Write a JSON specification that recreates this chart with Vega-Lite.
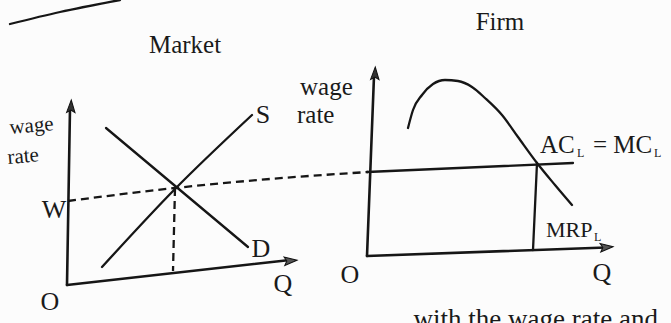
{
  "$schema": "https://vega.github.io/schema/vega-lite/v6.json",
  "width": 671,
  "height": 323,
  "padding": 0,
  "autosize": {"type": "none"},
  "background": "#fcfcfc",
  "config": {"view": {"stroke": null}},
  "datasets": {
    "lines": [
      {"id": "axL_y", "kind": "axis", "ord": 0, "x": 67, "y": 285},
      {"id": "axL_y", "kind": "axis", "ord": 1, "x": 70, "y": 108},
      {"id": "axL_x", "kind": "axis", "ord": 0, "x": 67, "y": 285},
      {"id": "axL_x", "kind": "axis", "ord": 1, "x": 290, "y": 260},
      {"id": "axR_y", "kind": "axis", "ord": 0, "x": 367, "y": 256},
      {"id": "axR_y", "kind": "axis", "ord": 1, "x": 374, "y": 76},
      {"id": "axR_x", "kind": "axis", "ord": 0, "x": 367, "y": 256},
      {"id": "axR_x", "kind": "axis", "ord": 1, "x": 606, "y": 247.5},
      {"id": "S", "kind": "curve", "ord": 0, "x": 102, "y": 267},
      {"id": "S", "kind": "curve", "ord": 1, "x": 175, "y": 189},
      {"id": "S", "kind": "curve", "ord": 2, "x": 252, "y": 115},
      {"id": "D", "kind": "curve", "ord": 0, "x": 106, "y": 128},
      {"id": "D", "kind": "curve", "ord": 1, "x": 248, "y": 247},
      {"id": "ACMC", "kind": "curve", "ord": 0, "x": 367, "y": 172},
      {"id": "ACMC", "kind": "curve", "ord": 1, "x": 573, "y": 163},
      {"id": "Vq", "kind": "curve", "ord": 0, "x": 537, "y": 163},
      {"id": "Vq", "kind": "curve", "ord": 1, "x": 533, "y": 250},
      {"id": "MRP", "kind": "curve", "ord": 0, "x": 408, "y": 128},
      {"id": "MRP", "kind": "curve", "ord": 1, "x": 413, "y": 110},
      {"id": "MRP", "kind": "curve", "ord": 2, "x": 422, "y": 95},
      {"id": "MRP", "kind": "curve", "ord": 3, "x": 433, "y": 84},
      {"id": "MRP", "kind": "curve", "ord": 4, "x": 445, "y": 80},
      {"id": "MRP", "kind": "curve", "ord": 5, "x": 458, "y": 81},
      {"id": "MRP", "kind": "curve", "ord": 6, "x": 472, "y": 87},
      {"id": "MRP", "kind": "curve", "ord": 7, "x": 485, "y": 98},
      {"id": "MRP", "kind": "curve", "ord": 8, "x": 502, "y": 115},
      {"id": "MRP", "kind": "curve", "ord": 9, "x": 518, "y": 137},
      {"id": "MRP", "kind": "curve", "ord": 10, "x": 537, "y": 163},
      {"id": "MRP", "kind": "curve", "ord": 11, "x": 555, "y": 185},
      {"id": "MRP", "kind": "curve", "ord": 12, "x": 572, "y": 205},
      {"id": "rule_top", "kind": "curve", "ord": 0, "x": 10, "y": 24},
      {"id": "rule_top", "kind": "curve", "ord": 1, "x": 60, "y": 12},
      {"id": "rule_top", "kind": "curve", "ord": 2, "x": 120, "y": 0}
    ],
    "dashes": [
      {"id": "Wd", "ord": 0, "x": 68, "y": 201},
      {"id": "Wd", "ord": 1, "x": 175, "y": 188},
      {"id": "Wd", "ord": 2, "x": 270, "y": 179},
      {"id": "Wd", "ord": 3, "x": 368, "y": 172},
      {"id": "Vd", "ord": 0, "x": 175, "y": 188},
      {"id": "Vd", "ord": 1, "x": 173, "y": 271}
    ],
    "arrows": [
      {"dir": "up", "x": 71, "y": 107},
      {"dir": "right", "x": 290, "y": 260.8},
      {"dir": "up", "x": 375, "y": 74},
      {"dir": "right", "x": 606, "y": 247.3}
    ],
    "texts": [
      {"role": "title", "label": "Market", "x": 185, "y": 53},
      {"role": "title", "label": "Firm", "x": 500, "y": 30},
      {"role": "sym", "label": "S", "x": 263, "y": 123},
      {"role": "sym", "label": "D", "x": 261, "y": 257},
      {"role": "sym", "label": "Q", "x": 283, "y": 292},
      {"role": "sym", "label": "O", "x": 50, "y": 310},
      {"role": "sym", "label": "W", "x": 54, "y": 218},
      {"role": "sym", "label": "O", "x": 350, "y": 283},
      {"role": "sym", "label": "Q", "x": 602, "y": 281},
      {"role": "lab_l", "label": "wage", "x": 10, "y": 134},
      {"role": "lab_l", "label": "rate", "x": 8, "y": 164},
      {"role": "lab_r", "label": "wage", "x": 300, "y": 95},
      {"role": "lab_r", "label": "rate", "x": 297, "y": 123},
      {"role": "curve", "label": "AC", "x": 540, "y": 153},
      {"role": "curve", "label": "= MC", "x": 593, "y": 153},
      {"role": "mrp", "label": "MRP", "x": 546, "y": 237},
      {"role": "sub", "label": "L", "x": 577, "y": 157},
      {"role": "sub", "label": "L", "x": 654, "y": 157},
      {"role": "sub", "label": "L", "x": 594, "y": 241},
      {"role": "cap", "label": "with the wage rate and", "x": 658, "y": 328}
    ]
  },
  "encoding": {
    "x": {"field": "x", "type": "quantitative", "axis": null, "scale": {"domain": [0, 671], "nice": false, "zero": false}},
    "y": {"field": "y", "type": "quantitative", "axis": null, "scale": {"domain": [0, 323], "nice": false, "zero": false, "reverse": true}}
  },
  "layer": [
    {
      "data": {"name": "lines"},
      "transform": [{"filter": "datum.kind === 'axis'"}],
      "mark": {"type": "line", "strokeWidth": 2.6, "color": "#161616", "strokeCap": "round"},
      "encoding": {"detail": {"field": "id"}, "order": {"field": "ord", "type": "quantitative"}}
    },
    {
      "data": {"name": "lines"},
      "transform": [{"filter": "datum.kind === 'curve'"}],
      "mark": {"type": "line", "strokeWidth": 2.3, "color": "#161616", "strokeCap": "round", "interpolate": "monotone"},
      "encoding": {"detail": {"field": "id"}, "order": {"field": "ord", "type": "quantitative"}}
    },
    {
      "data": {"name": "dashes"},
      "mark": {"type": "line", "strokeWidth": 2.3, "color": "#161616", "strokeDash": [8, 5], "interpolate": "monotone"},
      "encoding": {"detail": {"field": "id"}, "order": {"field": "ord", "type": "quantitative"}}
    },
    {
      "data": {"name": "arrows"},
      "transform": [{"filter": "datum.dir === 'up'"}],
      "mark": {"type": "point", "filled": true, "shape": "M0,-1L0.6,0.8L0,0.45L-0.6,0.8Z", "size": 196, "angle": 2, "fill": "#333333", "stroke": "#111111", "strokeWidth": 1, "opacity": 1}
    },
    {
      "data": {"name": "arrows"},
      "transform": [{"filter": "datum.dir === 'right'"}],
      "mark": {"type": "point", "filled": true, "shape": "M0,-1L0.6,0.8L0,0.45L-0.6,0.8Z", "size": 196, "angle": 85, "fill": "#555555", "stroke": "#111111", "strokeWidth": 1, "opacity": 1}
    },
    {
      "data": {"name": "texts"},
      "transform": [{"filter": "datum.role === 'title'"}],
      "mark": {"type": "text", "font": "Liberation Serif", "fontSize": 25, "align": "center", "baseline": "alphabetic", "color": "#1a1a1a"},
      "encoding": {"text": {"field": "label"}}
    },
    {
      "data": {"name": "texts"},
      "transform": [{"filter": "datum.role === 'sym'"}],
      "mark": {"type": "text", "font": "Liberation Serif", "fontSize": 26, "align": "center", "baseline": "alphabetic", "color": "#1a1a1a"},
      "encoding": {"text": {"field": "label"}}
    },
    {
      "data": {"name": "texts"},
      "transform": [{"filter": "datum.role === 'lab_l'"}],
      "mark": {"type": "text", "font": "Liberation Serif", "fontSize": 21, "align": "left", "baseline": "alphabetic", "angle": -5, "color": "#1a1a1a"},
      "encoding": {"text": {"field": "label"}}
    },
    {
      "data": {"name": "texts"},
      "transform": [{"filter": "datum.role === 'lab_r'"}],
      "mark": {"type": "text", "font": "Liberation Serif", "fontSize": 25, "align": "left", "baseline": "alphabetic", "color": "#1a1a1a"},
      "encoding": {"text": {"field": "label"}}
    },
    {
      "data": {"name": "texts"},
      "transform": [{"filter": "datum.role === 'curve'"}],
      "mark": {"type": "text", "font": "Liberation Serif", "fontSize": 25, "align": "left", "baseline": "alphabetic", "color": "#1a1a1a"},
      "encoding": {"text": {"field": "label"}}
    },
    {
      "data": {"name": "texts"},
      "transform": [{"filter": "datum.role === 'mrp'"}],
      "mark": {"type": "text", "font": "Liberation Serif", "fontSize": 22, "align": "left", "baseline": "alphabetic", "color": "#1a1a1a"},
      "encoding": {"text": {"field": "label"}}
    },
    {
      "data": {"name": "texts"},
      "transform": [{"filter": "datum.role === 'sub'"}],
      "mark": {"type": "text", "font": "Liberation Serif", "fontSize": 12, "align": "left", "baseline": "alphabetic", "color": "#1a1a1a"},
      "encoding": {"text": {"field": "label"}}
    },
    {
      "data": {"name": "texts"},
      "transform": [{"filter": "datum.role === 'cap'"}],
      "mark": {"type": "text", "font": "Liberation Serif", "fontSize": 27, "align": "right", "baseline": "alphabetic", "color": "#1a1a1a"},
      "encoding": {"text": {"field": "label"}}
    }
  ]
}
